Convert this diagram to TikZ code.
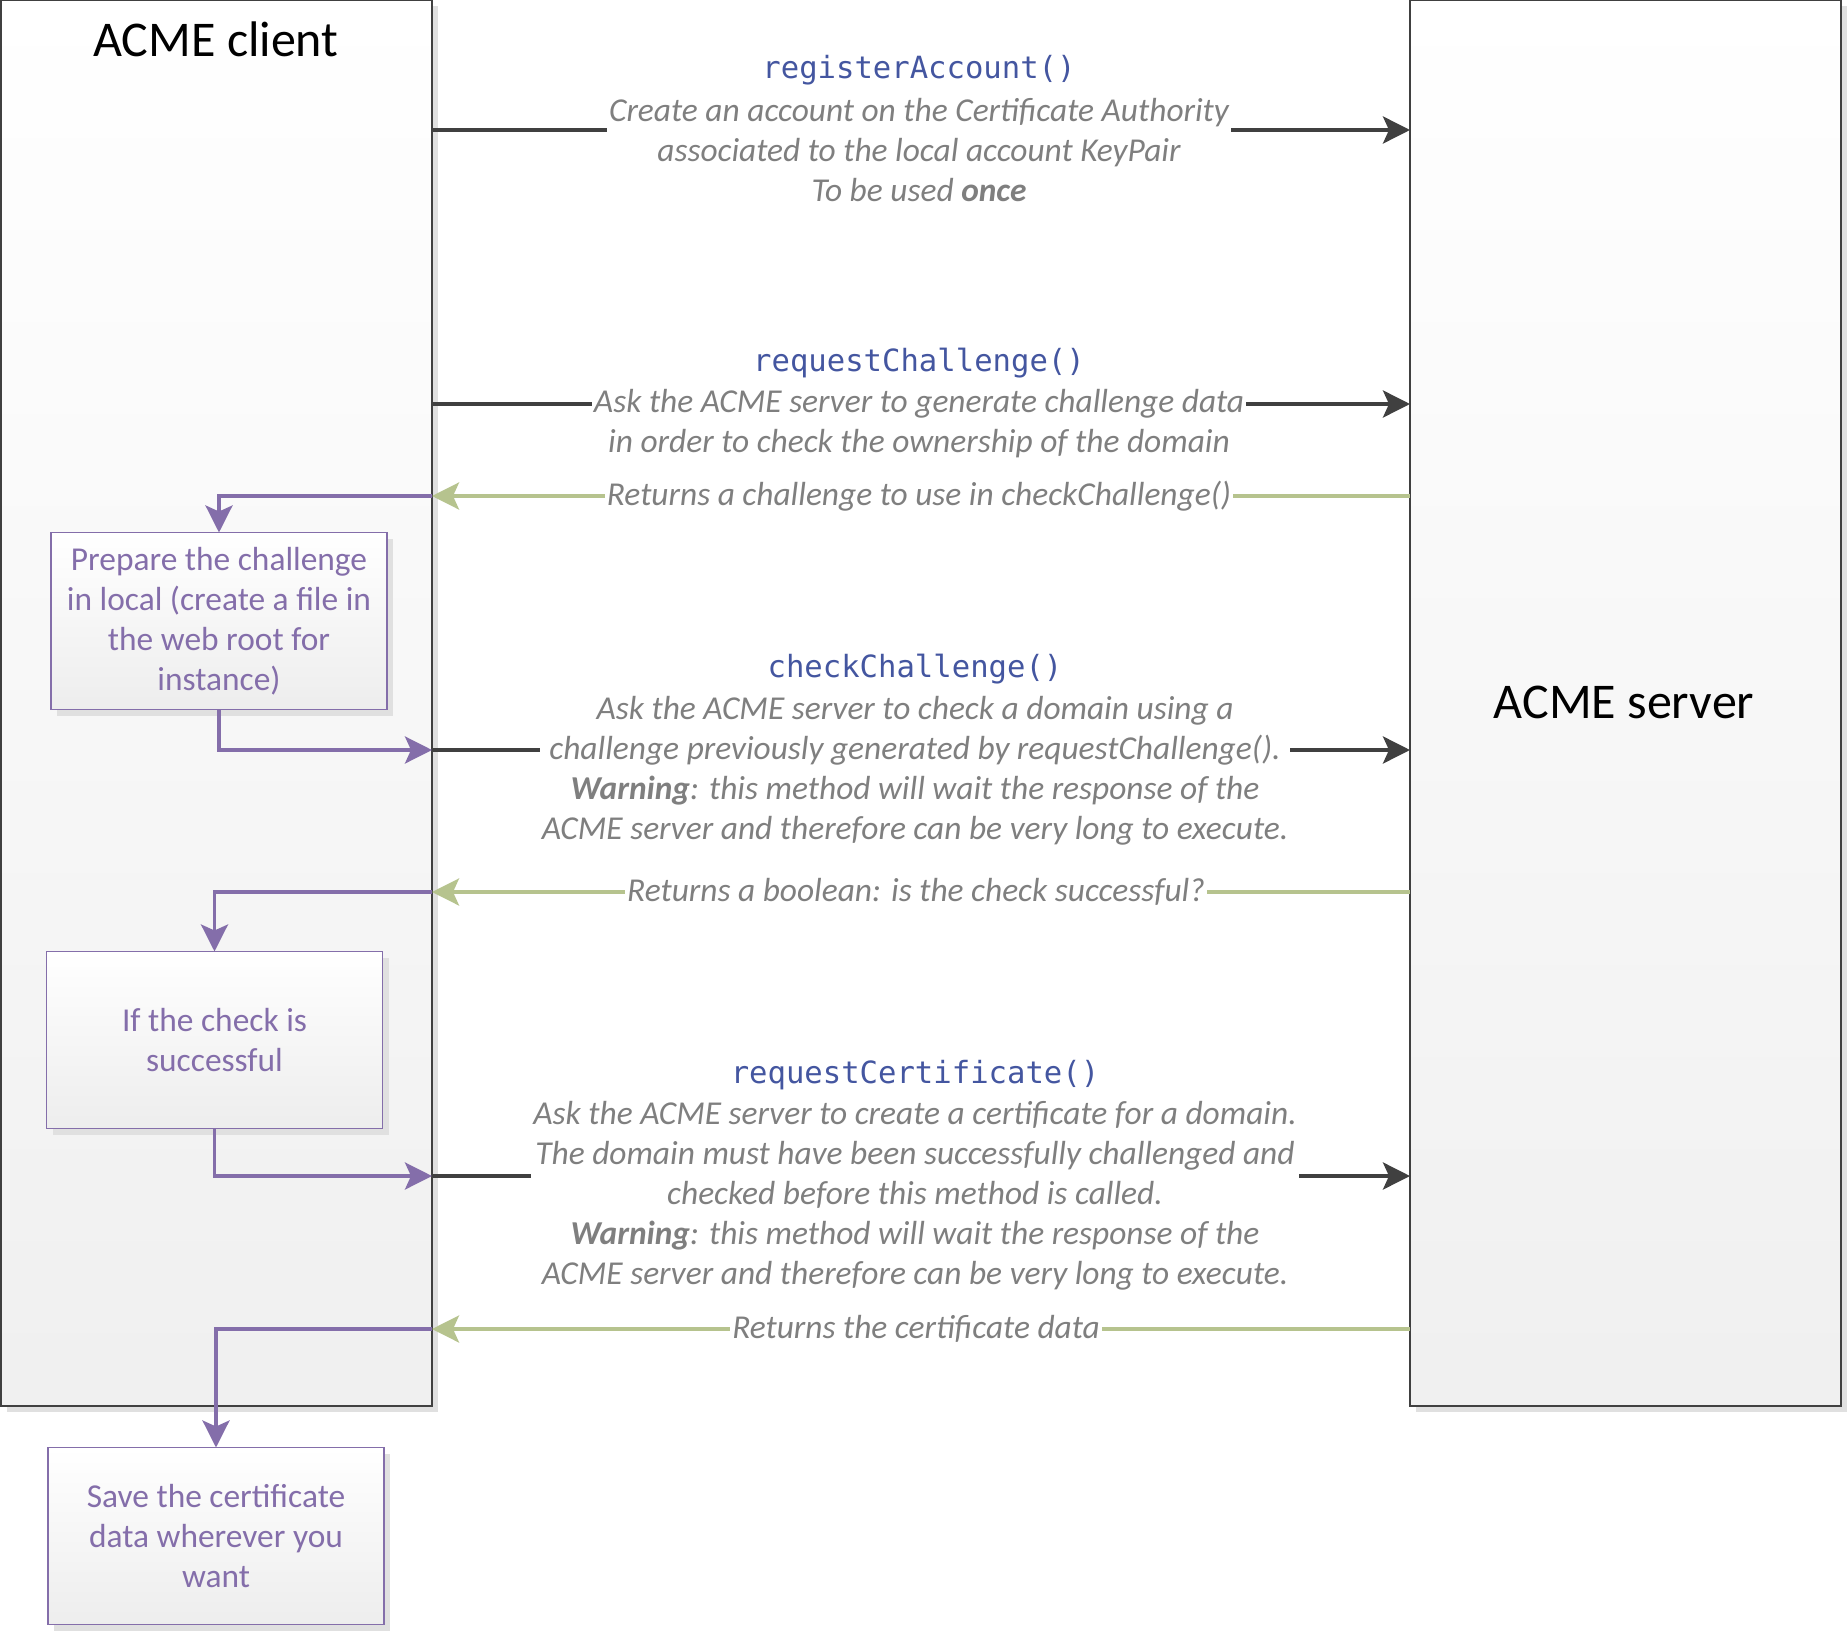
\documentclass[tikz,border=0pt]{standalone}
\usepackage{fontspec}
\setmainfont{Carlito}
\newfontfamily\codefont{DejaVu Sans Mono}
\usepackage{tikz}
\usetikzlibrary{arrows.meta,positioning,shadows}
\definecolor{acdark}{RGB}{64,64,64}
\definecolor{acgreen}{RGB}{182,195,142}
\definecolor{acpurple}{RGB}{132,110,170}
\definecolor{accode}{RGB}{68,86,160}
\definecolor{acgray}{RGB}{127,127,127}
\tikzset{
  lane/.style={draw=acdark, line width=0.7pt, top color=white, bottom color=black!6, minimum width=215.5pt, minimum height=703pt, outer sep=0pt, drop shadow={shadow xshift=3pt, shadow yshift=-3pt, fill=black!12, opacity=1}},
  lanetitle/.style={font=\fontsize{25}{28}\selectfont, text=black},
  taskbox/.style={draw=acpurple, line width=0.6pt, top color=white, bottom color=black!7, minimum width=168pt, minimum height=88.5pt, outer sep=0pt, align=center, text=acpurple, font=\fontsize{16.7}{20}\selectfont, drop shadow={shadow xshift=3pt, shadow yshift=-3pt, fill=black!12, opacity=1}},
  method/.style={font=\codefont\fontsize{15.3}{18}\selectfont, text=accode},
  desc/.style={font=\itshape\fontsize{16.7}{20}\selectfont, text=acgray, fill=white, inner sep=1pt, align=center},
  tip/.style={-{Stealth[length=13.5pt, width=13.5pt, inset=3pt]}},
  callarrow/.style={tip, line width=2pt, draw=acdark},
  retarrow/.style={tip, line width=1.8pt, draw=acgreen},
  flowarrow/.style={tip, line width=1.8pt, draw=acpurple}
}
\begin{document}
\begin{tikzpicture}[x=0.5pt, y=-0.5pt]
  \useasboundingbox (0,0) rectangle (1848,1632);
  % Lifelines
  \node[lane] (client) at (216.5,703) {};
  \node[lane] (server) at (1625.5,703) {};
  \node[lanetitle] (clienttitle) at (216,39) {ACME client};
  \node[lanetitle] (servertitle) at (1624,702) {ACME server};
  % Local steps of the client
  \node[taskbox] (prep) at (219,621) {Prepare the challenge\\in local (create a file in\\the web root for\\instance)};
  \node[taskbox] (check) at (214.5,1040) {If the check is\\successful};
  \node[taskbox] (save) at (216,1536) {Save the certificate\\data wherever you\\want};
  % Message heights
  \coordinate (y1) at (0,130);
  \coordinate (y2) at (0,404);
  \coordinate (r1) at (0,496);
  \coordinate (y3) at (0,750);
  \coordinate (r2) at (0,892);
  \coordinate (y4) at (0,1176);
  \coordinate (r3) at (0,1329);
  % Calls and returns
  \draw[callarrow] (client.east |- y1) -- (server.west |- y1);
  \draw[callarrow] (client.east |- y2) -- (server.west |- y2);
  \draw[retarrow] (server.west |- r1) -- (client.east |- r1);
  \draw[callarrow] (client.east |- y3) -- (server.west |- y3);
  \draw[retarrow] (server.west |- r2) -- (client.east |- r2);
  \draw[callarrow] (client.east |- y4) -- (server.west |- y4);
  \draw[retarrow] (server.west |- r3) -- (client.east |- r3);
  % Flow inside the client
  \draw[flowarrow] (client.east |- r1) -| (prep.north);
  \draw[flowarrow] (prep.south) |- (client.east |- y3);
  \draw[flowarrow] (client.east |- r2) -| (check.north);
  \draw[flowarrow] (check.south) |- (client.east |- y4);
  \draw[flowarrow] (client.east |- r3) -| (save.north);
  % Labels
  \node[method] (m1) at (919,70) {registerAccount()};
  \node[desc] (d1) at (919,150) {Create an account on the Certificate Authority\\associated to the local account KeyPair\\To be used \textbf{once}};
  \node[method] (m2) at (919,363) {requestChallenge()};
  \node[desc] (d2) at (919,424) {Ask the ACME server to generate challenge data\\in order to check the ownership of the domain};
  \node[desc] (d2r) at (919,496) {Returns a challenge to use in checkChallenge()};
  \node[method] (m3) at (915,669) {checkChallenge()};
  \node[desc] (d3) at (915,771) {Ask the ACME server to check a domain using a\\challenge previously generated by requestChallenge().\\\textbf{Warning}: this method will wait the response of the\\ACME server and therefore can be very long to execute.};
  \node[desc] (d3r) at (916,892) {Returns a boolean: is the check successful?};
  \node[method] (m4) at (915,1075) {requestCertificate()};
  \node[desc] (d4) at (915,1196) {Ask the ACME server to create a certificate for a domain.\\The domain must have been successfully challenged and\\checked before this method is called.\\\textbf{Warning}: this method will wait the response of the\\ACME server and therefore can be very long to execute.};
  \node[desc] (d4r) at (916,1329) {Returns the certificate data};
\end{tikzpicture}
\end{document}
